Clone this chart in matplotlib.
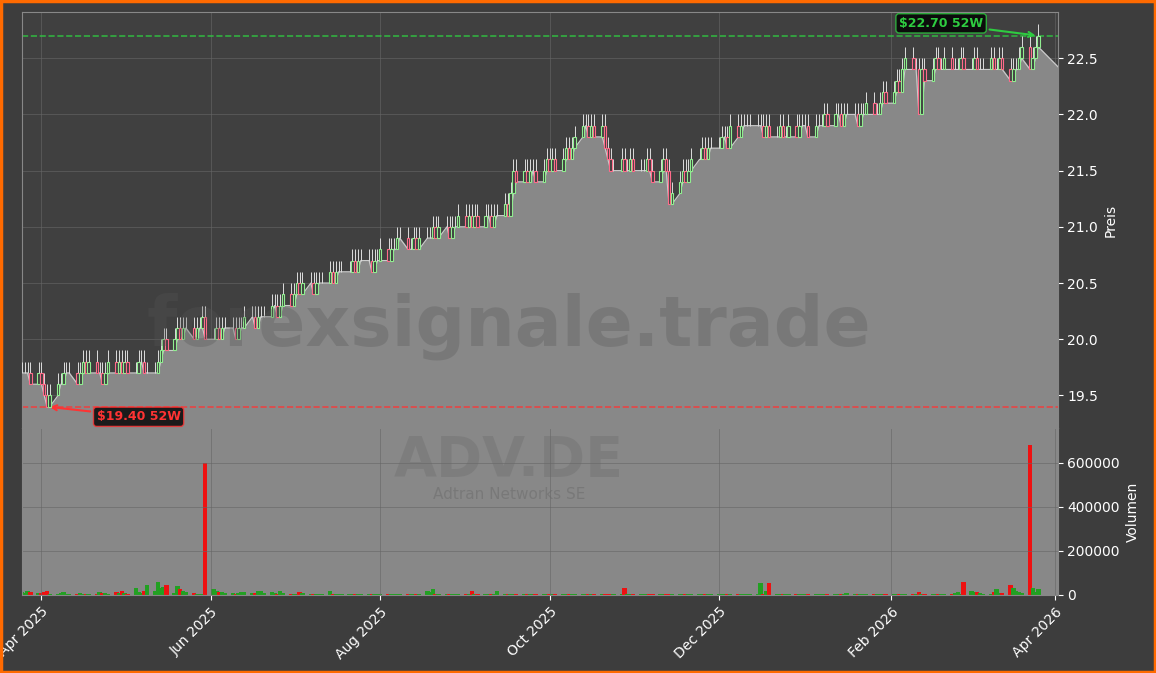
import matplotlib
matplotlib.use("Agg")
import matplotlib.pyplot as plt
import matplotlib.dates as mdates
import numpy as np
import pandas as pd

close = [
19.7,19.7,19.7,19.6,19.7,
19.6,19.5,19.4,19.5,19.6,19.6,19.7,19.7,19.7,19.6,19.7,19.8,19.7,19.8,19.7,19.7,19.6,19.7,19.8,19.7,19.8,19.7,
19.8,19.7,19.7,19.8,19.8,19.7,19.7,19.7,19.8,19.9,20.0,19.9,20.0,20.1,20.0,20.1,20.1,20.0,20.1,20.1,20.2,20.0,
20.0,20.1,20.0,20.1,20.1,20.1,20.0,20.1,20.1,20.2,20.2,20.1,20.2,20.2,20.2,20.3,20.3,20.2,20.3,20.4,20.3,
20.4,20.5,20.4,20.5,20.5,20.4,20.5,20.5,20.5,20.6,20.5,20.6,20.6,20.6,20.6,20.7,20.6,20.7,20.7,20.7,20.6,20.7,20.7,
20.8,20.7,20.8,20.8,20.9,20.9,20.8,20.8,20.9,20.8,20.9,20.9,20.9,21.0,20.9,21.0,21.0,20.9,21.0,21.0,21.1,
21.0,21.1,21.0,21.1,21.0,21.1,21.1,21.0,21.1,21.1,21.2,21.1,21.3,21.5,21.4,21.5,21.4,21.5,21.5,21.4,21.5,21.6,
21.5,21.6,21.5,21.6,21.7,21.6,21.7,21.8,21.9,21.9,21.8,21.9,21.8,21.9,21.7,21.6,21.5,21.5,21.6,21.5,21.5,21.6,21.5,
21.5,21.5,21.6,21.5,21.4,21.5,21.6,21.5,21.2,21.3,21.4,21.5,21.4,21.5,21.6,21.6,21.7,21.6,21.7,21.7,
21.7,21.8,21.8,21.7,21.9,21.8,21.9,21.9,21.9,21.9,21.9,21.9,21.8,21.9,21.8,21.8,21.9,21.8,21.8,21.9,21.8,21.9,21.9,
21.9,21.8,21.9,21.9,21.9,22.0,21.9,22.0,22.0,21.9,22.0,22.0,22.0,21.9,22.0,22.0,22.1,22.0,22.0,22.1,22.2,22.1,
22.2,22.3,22.2,22.4,22.5,22.4,22.4,22.0,22.4,22.3,22.4,22.5,22.4,22.4,22.5,22.4,22.4,22.4,22.5,22.4,
22.4,22.5,22.4,22.4,22.4,22.5,22.4,22.4,22.5,22.4,22.3,22.4,22.4,22.5,22.6,22.4,22.5,22.6,22.7,
]
volume = [
15000,8000,20000,12000,10000,
9000,14000,18000,6000,5000,8000,12000,4000,3000,6000,9000,5000,4000,3000,2000,12000,8000,10000,6000,15000,9000,20000,
7000,5000,30000,15000,8000,20000,45000,20000,60000,30000,35000,45000,10000,40000,25000,20000,15000,8000,6000,5000,4000,600000,
25000,18000,12000,15000,10000,8000,6000,9000,12000,15000,10000,8000,16000,20000,9000,12000,8000,6000,18000,10000,5000,
3000,5000,12000,8000,6000,4000,3000,5000,4000,20000,6000,4000,3000,2000,5000,4000,3000,2000,6000,4000,3000,5000,4000,
3000,2000,5000,4000,3000,2000,5000,6000,4000,3000,5000,20000,12000,25000,6000,4000,3000,5000,4000,3000,2000,
4000,3000,20000,5000,4000,3000,5000,6000,4000,20000,5000,4000,3000,2000,5000,4000,3000,5000,4000,3000,2000,4000,
3000,5000,4000,3000,5000,4000,3000,2000,4000,3000,5000,4000,3000,2000,4000,3000,5000,4000,3000,30000,5000,4000,3000,
4000,3000,5000,4000,3000,2000,4000,3000,5000,4000,3000,5000,4000,3000,2000,4000,3000,5000,4000,3000,
4000,3000,5000,4000,3000,2000,4000,3000,5000,4000,3000,55000,4000,20000,55000,4000,3000,5000,4000,3000,2000,4000,3000,
4000,3000,5000,4000,3000,2000,4000,3000,5000,4000,3000,8000,4000,3000,6000,4000,3000,5000,4000,3000,2000,4000,
3000,5000,4000,3000,5000,4000,3000,12000,4000,3000,5000,4000,3000,5000,4000,6000,8000,15000,5000,60000,
20000,15000,12000,8000,5000,4000,15000,25000,10000,8000,45000,30000,20000,15000,10000,680000,30000,15000,25000,
]

dates = pd.bdate_range("2025-03-25", periods=len(close))
c = np.array(close)
o = np.concatenate([[c[0]], c[:-1]])
hi = np.maximum(o, c) + 0.1
lo = np.minimum(o, c)
vol = np.array(volume[:len(close)])

BG = "#3d3d3d"
fig = plt.figure(figsize=(11.56, 6.73), dpi=100, facecolor=BG)
fig.patches.append(plt.Rectangle((0.001, 0.002), 0.998, 0.996, transform=fig.transFigure,
                                 fill=False, edgecolor="#ff6a00", linewidth=2.5))
ax = fig.add_axes([0.019, 0.364, 0.896, 0.618], facecolor="#404040")
axv = fig.add_axes([0.019, 0.116, 0.896, 0.248], facecolor="#888888", sharex=ax)

x = mdates.date2num(dates)
xext = np.append(x, x[-1] + 8)
loext = np.append(lo, 22.4)
ax.fill_between(xext, loext, 19.0, color="#888888", zorder=1)
ax.plot(xext, loext, color="#cccccc", lw=0.8, zorder=2)
up = c >= o
w = 0.9
ax.vlines(x, lo, hi, color="#dddddd", lw=0.7, zorder=3)
for i in range(len(x)):
    if c[i] != o[i]:
        col = "#90ee90" if up[i] else "#ff6b8a"
        ax.add_patch(plt.Rectangle((x[i] - w / 2, lo[i]), w, abs(c[i] - o[i]),
                                   facecolor="#404040", edgecolor=col, lw=0.8, zorder=4))

ax.axhline(22.7, color="#2ecc40", ls="--", lw=1.2, alpha=0.8)
ax.axhline(19.4, color="#ff3333", ls="--", lw=1.2, alpha=0.8)
imax = int(np.argmax(hi)); imin = int(np.argmin(lo))
ax.annotate("$22.70 52W", xy=(x[imax], 22.7), xytext=(x[imax] - 35, 22.81),
            color="#2ecc40", fontsize=9, fontweight="bold", ha="center", va="center",
            bbox=dict(boxstyle="round,pad=0.25", fc="black", ec="#2ecc40", alpha=0.8),
            arrowprops=dict(arrowstyle="->", color="#2ecc40", lw=1.5))
ax.annotate("$19.40 52W", xy=(x[imin], 19.4), xytext=(x[imin] + 33, 19.31),
            color="#ff3333", fontsize=9, fontweight="bold", ha="center", va="center",
            bbox=dict(boxstyle="round,pad=0.25", fc="black", ec="#ff3333", alpha=0.8),
            arrowprops=dict(arrowstyle="->", color="#ff3333", lw=1.5))

ax.text(0.47, 0.245, "forexsignale.trade", transform=ax.transAxes, ha="center", va="center",
        fontsize=50, fontweight="bold", color="#555555", alpha=0.3, zorder=5)
axv.text(0.47, 0.8, "ADV.DE", transform=axv.transAxes, ha="center", va="center",
         fontsize=40, fontweight="bold", color="#6a6a6a", alpha=0.35)
axv.text(0.47, 0.6, "Adtran Networks SE", transform=axv.transAxes, ha="center", va="center",
         fontsize=11, color="#6a6a6a", alpha=0.5)

vcol = ["#22a022" if u else "#ee1111" for u in up]
axv.bar(x, vol, width=1.6, color=vcol)

ax.set_ylim(19.21, 22.91)
axv.set_ylim(0, 759000)
ax.set_xlim(mdates.date2num(pd.Timestamp("2025-03-25")), mdates.date2num(pd.Timestamp("2026-04-02")))

for a in (ax, axv):
    a.yaxis.tick_right()
    a.yaxis.set_label_position("right")
    a.tick_params(colors="white", labelsize=10)
    a.grid(True, color="#666666", lw=0.6, alpha=0.7)
    for s in a.spines.values():
        s.set_color("#888888")
ax.set_axisbelow(True)
ax.set_ylabel("Preis", color="white", fontsize=10)
axv.set_ylabel("Volumen", color="white", fontsize=10)
axv.set_yticks([0, 200000, 400000, 600000])
axv.yaxis.set_major_formatter(matplotlib.ticker.FuncFormatter(lambda v, p: f"{int(v)}"))
plt.setp(ax.get_xticklabels(), visible=False)
axv.xaxis.set_major_locator(mdates.MonthLocator(bymonth=[4, 6, 8, 10, 12, 2]))
axv.xaxis.set_major_formatter(mdates.DateFormatter("%b %Y"))
plt.setp(axv.get_xticklabels(), rotation=45, ha="right", rotation_mode="anchor")

fig.savefig("out.png", dpi=100, facecolor=BG)
